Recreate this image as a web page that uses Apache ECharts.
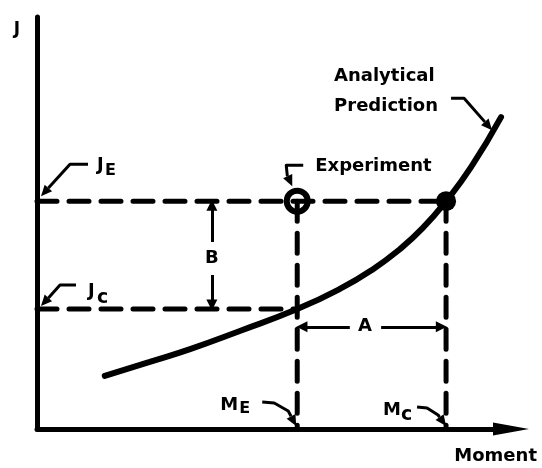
<!DOCTYPE html>
<html>
<head>
<meta charset="utf-8">
<script src="https://cdn.jsdelivr.net/npm/echarts@6/dist/echarts.min.js"></script>
<style>
  html, body { margin: 0; padding: 0; background: #fff; }
  #chart { width: 542px; height: 468px; }
</style>
</head>
<body>
<div id="chart"></div>
<script>
// Analytical prediction curve: moment (x) and J (y)
const curveMoment = [14.3, 23.8, 32.3, 42.8, 54.9, 63.9, 70.9, 76.6, 81.4, 86.3, 91.6, 97.9];
const curveJ      = [12.9, 16.3, 19.4, 23.8, 29.1, 34.0, 38.8, 43.7, 48.8, 55.3, 63.6, 75.7];

// Characteristic values
const momentE = 54.9;  // M_E, moment of the experiment
const momentC = 86.3;  // M_c, moment predicted for J_E
const jE = 55.3;       // J_E, measured J
const jC = 29.1;       // J_c, predicted J at M_E

// Axis names
const xName = 'Moment';
const yName = 'J';

// Where the two dimension arrows sit
const dimB = { moment: 36.9, labelJ: 41.5, gapTop: 45.4, gapBottom: 37.4 };
const dimA = { j: 24.8, labelMoment: 69.2, gapLeft: 66.0, gapRight: 72.6 };

const FONT = 'DejaVu Sans';
const INK = '#000';

const chart = echarts.init(document.getElementById('chart'), null, { renderer: 'canvas' });

const dashStyle = { color: INK, width: 5, type: [20, 12], cap: 'round' };
const dashed = (pts) => ({
  type: 'line', data: pts, symbol: 'none', silent: true, z: 2,
  lineStyle: dashStyle
});

const arrowPull = 1.0; // keeps the arrow tips on the dashed lines
const dimLines = [
  { coords: [[dimB.moment, dimB.gapTop], [dimB.moment, jE - arrowPull]] },
  { coords: [[dimB.moment, dimB.gapBottom], [dimB.moment, jC + arrowPull]] },
  { coords: [[dimA.gapLeft, dimA.j], [momentE + arrowPull, dimA.j]] },
  { coords: [[dimA.gapRight, dimA.j], [momentC - arrowPull, dimA.j]] }
];

chart.setOption({
  animation: false,
  backgroundColor: '#fff',
  grid: { left: 37, right: 31, top: 17, bottom: 39 },
  xAxis: {
    type: 'value', min: 0, max: 100,
    name: xName, nameLocation: 'end', nameGap: 26,
    nameTextStyle: {
      fontFamily: FONT, fontWeight: 'bold', fontSize: 18, color: INK,
      align: 'right', verticalAlign: 'top', padding: [18, 0, 0, 0]
    },
    axisLine: {
      show: true, onZero: false,
      symbol: ['none', 'triangle'], symbolSize: [13, 36],
      lineStyle: { color: INK, width: 5 }
    },
    axisTick: { show: false }, axisLabel: { show: false }, splitLine: { show: false }
  },
  yAxis: {
    type: 'value', min: 0, max: 100,
    name: yName, nameLocation: 'end', nameGap: 0,
    nameTextStyle: {
      fontFamily: FONT, fontWeight: 'bold', fontSize: 17, color: INK,
      align: 'right', verticalAlign: 'top', padding: [4, 17, 0, 0]
    },
    axisLine: { show: true, onZero: false, lineStyle: { color: INK, width: 5 } },
    axisTick: { show: false }, axisLabel: { show: false }, splitLine: { show: false }
  },
  series: [
    {
      type: 'scatter', name: 'Experiment', z: 1, symbol: 'circle', symbolSize: 21,
      data: [[momentE, jE]],
      itemStyle: { color: '#fff', borderColor: INK, borderWidth: 6, opacity: 1 }
    },
    dashed([[0, jE], [momentC, jE]]),
    dashed([[0, jC], [momentE, jC]]),
    dashed([[momentE, jE], [momentE, 0]]),
    dashed([[momentC, jE], [momentC, 0]]),
    {
      type: 'line', name: 'Analytical Prediction', smooth: 0.5, symbol: 'none', z: 3,
      data: curveMoment.map((m, i) => [m, curveJ[i]]),
      lineStyle: { color: INK, width: 6, cap: 'round' }
    },
    {
      type: 'scatter', name: 'Prediction', z: 4, symbol: 'circle', symbolSize: 20,
      data: [[momentC, jE]],
      itemStyle: { color: INK, opacity: 1 }
    },
    {
      type: 'lines', coordinateSystem: 'cartesian2d', z: 4, silent: true,
      symbol: ['none', 'triangle'], symbolSize: 11,
      lineStyle: { color: INK, width: 3, opacity: 1, curveness: 0 },
      data: dimLines
    }
  ]
});

// Callouts: text plus bent leader arrows, placed relative to data anchors
const toPx = (p) => chart.convertToPixel({ gridIndex: 0 }, p);

function text(str, x, y, size, align) {
  return {
    type: 'text', z: 10, silent: true,
    style: {
      text: str, x: x, y: y, fill: INK,
      font: 'bold ' + size + 'px "' + FONT + '"',
      textAlign: align || 'left', textVerticalAlign: 'middle'
    }
  };
}

function leader(anchor, offsets) {
  const pts = offsets.map(o => [anchor[0] + o[0], anchor[1] + o[1]]);
  const a = pts[pts.length - 2], b = pts[pts.length - 1];
  const ang = Math.atan2(b[1] - a[1], b[0] - a[0]);
  const len = 11, half = 5;
  const bx = b[0] - len * Math.cos(ang), by = b[1] - len * Math.sin(ang);
  const nx = -Math.sin(ang) * half, ny = Math.cos(ang) * half;
  return [
    {
      type: 'polyline', z: 10, silent: true,
      shape: { points: pts.slice(0, -1).concat([[bx, by]]) },
      style: { stroke: INK, lineWidth: 3, fill: null, lineJoin: 'round' }
    },
    {
      type: 'polygon', z: 10, silent: true,
      shape: { points: [b, [bx + nx, by + ny], [bx - nx, by - ny]] },
      style: { fill: INK }
    }
  ];
}

const pJE = toPx([0, jE]);
const pJC = toPx([0, jC]);
const pExp = toPx([momentE, jE]);
const pPred = toPx([momentC, jE]);
const pME = toPx([momentE, 0]);
const pMC = toPx([momentC, 0]);
const pB = toPx([dimB.moment, dimB.labelJ]);
const pA = toPx([dimA.labelMoment, dimA.j]);

const elements = [].concat(
  // J_E
  leader(pJE, [[51, -37], [33, -37], [4, -5]]),
  [text('J', pJE[0] + 60, pJE[1] - 36, 18), text('E', pJE[0] + 68, pJE[1] - 30, 16)],
  // J_c
  leader(pJC, [[39, -24], [23, -24], [4, -3]]),
  [text('J', pJC[0] + 51, pJC[1] - 18, 18), text('c', pJC[0] + 60, pJC[1] - 11, 19)],
  // Experiment
  leader(pExp, [[6, -36], [-11, -36], [-10, -26], [-5, -15]]),
  [text('Experiment', pExp[0] + 18, pExp[1] - 35, 18)],
  // Analytical Prediction
  leader(pPred, [[5, -103], [18, -103], [46, -71]]),
  [text('Analytical', pPred[0] - 112, pPred[1] - 125, 18),
   text('Prediction', pPred[0] - 112, pPred[1] - 95, 18)],
  // M_E
  leader(pME, [[-35, -27], [-23, -26], [-9, -18], [-1, -3]]),
  [text('M', pME[0] - 77, pME[1] - 24, 18), text('E', pME[0] - 58, pME[1] - 20, 16)],
  // M_c
  leader(pMC, [[-29, -22], [-19, -21], [-8, -14], [0, -3]]),
  [text('M', pMC[0] - 63, pMC[1] - 19, 18), text('c', pMC[0] - 45, pMC[1] - 14, 19)],
  // dimension letters, centred on their arrows
  [text('B', pB[0], pB[1], 18, 'center'), text('A', pA[0], pA[1], 18, 'center')]
);

chart.setOption({ graphic: { elements: elements } });
</script>
</body>
</html>
